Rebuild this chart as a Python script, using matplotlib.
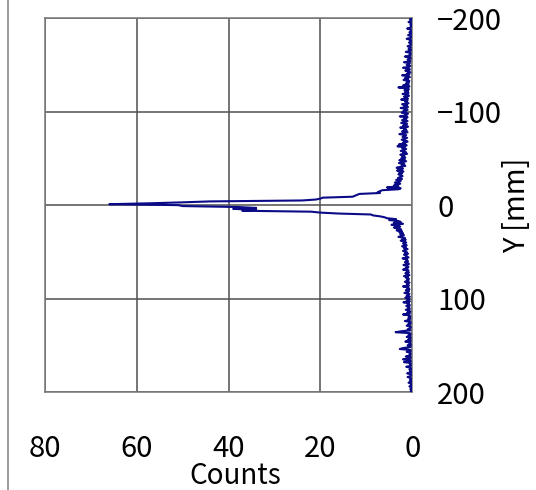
import numpy as np
import matplotlib
matplotlib.use("Agg")
import matplotlib.pyplot as plt
from matplotlib.lines import Line2D

plt.rcParams['font.family'] = ['Noto Sans CJK JP', 'DejaVu Sans']

# Bin positions along Y [mm] (1 mm bins)
y_upper = np.arange(-200, -20, 1)
y_core = np.arange(-20, 21, 1)
y_lower = np.arange(21, 201, 1)

# Counts per bin, upper tail (-200 .. -21 mm)
counts_upper = [
    0.2, 0.5, 0.3, 0.2, 0.8, 0.3, 0.2, 0.4, 0.2, 0.3,
    0.3, 1.1, 0.4, 0.2, 0.3, 0.6, 0.2, 0.3, 0.9, 0.3,
    0.2, 0.4, 1.2, 0.3, 0.5, 0.2, 0.7, 0.3, 0.2, 0.5,
    1.0, 0.3, 0.4, 0.8, 0.2, 0.5, 1.4, 0.4, 0.3, 0.6,
    0.4, 1.6, 0.5, 0.3, 1.0, 0.6, 0.4, 1.8, 0.5, 0.7,
    1.2, 0.4, 0.8, 2.0, 0.6, 0.5, 1.5, 0.7, 0.4, 1.1,
    0.6, 2.2, 0.8, 0.5, 1.6, 0.9, 1.9, 0.6, 1.2, 0.7,
    1.4, 0.8, 2.0, 0.6, 3.0, 1.1, 0.7, 1.7, 0.9, 1.5,
    0.8, 2.1, 1.0, 0.7, 1.8, 1.3, 0.9, 2.4, 1.0, 1.6,
    1.2, 0.8, 2.2, 1.1, 1.7, 0.9, 2.5, 1.3, 1.0, 1.9,
    1.4, 2.3, 0.9, 1.6, 1.2, 2.7, 1.0, 1.8, 1.3, 2.2,
    1.0, 1.7, 2.4, 1.1, 1.5, 2.0, 0.9, 2.6, 1.4, 1.8,
    1.2, 2.2, 1.0, 1.9, 2.8, 1.3, 1.6, 2.1, 1.1, 1.7,
    2.3, 1.4, 1.0, 2.0, 1.5, 2.9, 1.2, 3.2, 1.6, 2.2,
    1.3, 1.9, 2.5, 1.4, 2.0, 1.1, 2.6, 1.7, 2.2, 1.5,
    2.4, 1.6, 2.8, 1.3, 2.1, 2.9, 1.7, 2.3, 1.5, 2.6,
    3.4, 2.0, 2.6, 3.3, 1.9, 2.8, 2.2, 3.0, 2.4, 2.1,
    2.7, 3.1, 2.2, 3.5, 2.5, 2.9, 3.8, 2.6, 3.2, 4.0,
]
# Counts per bin, core (-20 .. 20 mm)
counts_core = [
    3.0, 5.5, 2.5, 3.0, 6.5, 7.0, 7.5, 7.0, 11.5, 12.0,
    12.5, 13.0, 19.5, 20.0, 21.0, 24.0, 44.0, 50.0, 57.0, 66.0,
    51.0,
    50.0, 38.0, 34.0, 39.0, 34.0, 37.0, 22.0, 20.0, 16.0, 9.0,
    8.5, 7.0, 6.0, 5.5, 3.5, 5.0, 3.0, 2.5, 4.0, 2.0,
]
# Counts per bin, lower tail (21 .. 200 mm)
counts_lower = [
    4.5, 3.2, 2.6, 4.0, 3.0, 2.4, 3.4, 2.2, 2.8, 2.0,
    2.6, 1.8, 2.3, 3.0, 1.6, 2.1, 1.4, 2.5, 1.7, 1.3,
    2.0, 1.5, 1.2, 2.2, 1.4, 1.8, 1.0, 1.6, 2.0, 1.2,
    1.5, 0.9, 1.8, 1.2, 1.4, 0.8, 2.1, 1.1, 1.3, 0.9,
    1.6, 1.0, 0.7, 1.9, 1.2, 0.8, 1.4, 1.0, 2.0, 0.8,
    1.2, 0.7, 1.5, 1.0, 0.6, 1.8, 0.9, 1.3, 0.7, 1.1,
    0.8, 1.6, 0.6, 1.2, 1.0, 0.7, 2.0, 0.8, 1.1, 0.6,
    1.4, 0.7, 1.0, 1.7, 0.6, 0.9, 1.2, 0.5, 1.5, 0.8,
    0.6, 1.2, 0.5, 1.9, 0.7, 1.0, 0.5, 1.3, 0.6, 0.9,
    0.5, 1.4, 0.6, 0.4, 1.1, 0.5, 2.0, 0.6, 0.4, 0.8,
    0.4, 0.9, 0.5, 1.6, 0.4, 0.3, 0.8, 0.5, 1.2, 0.4,
    0.3, 0.6, 1.0, 0.4, 2.4, 3.6, 0.5, 0.3, 0.8, 0.4,
    1.2, 0.3, 0.5, 0.9, 0.3, 1.5, 0.4, 0.6, 0.3, 1.0,
    0.3, 0.5, 2.0, 2.7, 0.4, 0.3, 1.2, 0.5, 0.3, 0.6,
    0.4, 1.4, 0.3, 0.5, 2.0, 0.4, 0.3, 1.8, 0.4, 0.3,
    0.5, 0.3, 1.3, 0.4, 0.2, 0.6, 0.3, 0.5, 0.2, 1.1,
    0.3, 0.2, 0.4, 1.0, 0.3, 0.2, 0.5, 0.2, 0.3, 0.8,
    0.2, 0.3, 0.2, 0.6, 0.2, 0.2, 0.4, 0.2, 0.3, 0.2,
]

x_ticks = [80, 60, 40, 20, 0]
y_ticks = [-200, -100, 0, 100, 200]

y_all = np.concatenate([y_upper, y_core, y_lower])
counts_all = np.concatenate([counts_upper, counts_core, counts_lower])

fig = plt.figure(figsize=(5.36, 4.90), dpi=100)
ax = fig.add_axes([0.084, 0.2, 0.685, 0.7627])

grid_col = '#505050'
ax.plot(counts_all, y_all, color='#0b0b88', lw=1.5, zorder=3)

ax.set_xlim(80, 0)
ax.set_ylim(200, -200)
ax.set_xticks(x_ticks)
ax.set_yticks(y_ticks)
ax.grid(True, color=grid_col, lw=1.1)
ax.set_axisbelow(True)
for s in ax.spines.values():
    s.set_color('#777777')
    s.set_linewidth(1.1)

ax.yaxis.tick_right()
ax.yaxis.set_label_position('right')
ax.tick_params(axis='both', length=0, labelsize=21, colors='black')
ax.tick_params(axis='x', pad=30)
ax.tick_params(axis='y', pad=18)
for lab in ax.get_yticklabels():
    lab.set_horizontalalignment('left')

ax.set_xlabel('Counts', fontsize=20)
ax.xaxis.label.set_va('center')
ax.xaxis.set_label_coords(0.518, -0.225)
ax.set_ylabel('Y [mm]', fontsize=21)
ax.yaxis.label.set_va('center')
ax.yaxis.label.set_ha('center')
ax.yaxis.set_label_coords(1.285, 0.5)

# thin frame line from the neighbouring panel
fig.add_artist(Line2D([0.014, 0.014], [0.0, 1.0], transform=fig.transFigure,
                      color='#8a8a8a', lw=1.2))

fig.savefig('out.png', dpi=100)
